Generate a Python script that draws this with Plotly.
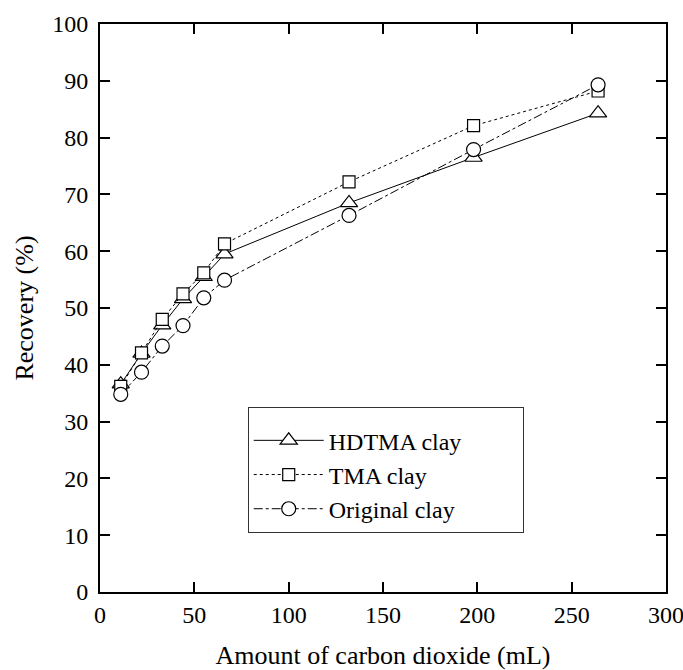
import plotly.graph_objects as go

co2_ml = [11, 22, 33, 44, 55, 66, 132, 198, 264]
hdtma = [36.6, 42.0, 47.0, 51.6, 55.5, 59.5, 68.5, 76.5, 84.3]
tma = [36.2, 42.1, 48.0, 52.5, 56.2, 61.3, 72.2, 82.1, 88.2]
original = [34.8, 38.7, 43.3, 46.9, 51.8, 54.9, 66.3, 77.9, 89.3]

series = [
    ("HDTMA clay", hdtma, "solid", "triangle-up", 15),
    ("TMA clay", tma, "dot", "square", 12),
    ("Original clay", original, "dashdot", "circle", 14),
]

font_family = "Liberation Serif"
tick_fs = 24
title_fs = 26
legend_fs = 24

fig = go.Figure()
for i, (name, vals, dash, sym, size) in enumerate(series):
    fig.add_trace(go.Scatter(
        x=co2_ml, y=vals, name=name, mode="lines+markers",
        line=dict(color="black", width=1, dash=dash),
        marker=dict(symbol=sym, size=size, color="white",
                    line=dict(color="black", width=1.2)),
    ))

axis_common = dict(
    showgrid=False, zeroline=False, showline=True, linecolor="black",
    linewidth=2, mirror="ticks", ticks="inside", ticklen=10, tickwidth=1.5,
    tickcolor="black", ticklabeloverflow="allow", automargin=False,
    tickfont=dict(family=font_family, size=tick_fs, color="black"),
)

fig.update_layout(
    width=683, height=670,
    margin=dict(l=100, r=17, t=24, b=78, autoexpand=False),
    paper_bgcolor="white", plot_bgcolor="white",
    font=dict(family=font_family, size=tick_fs, color="black"),
    xaxis=dict(range=[0, 300], dtick=50, ticklabelstandoff=0,
               title=dict(text="Amount of carbon dioxide (mL)", standoff=24,
                          font=dict(family=font_family, size=title_fs)),
               **axis_common),
    yaxis=dict(range=[0, 100], dtick=10, ticklabelstandoff=5,
               title=dict(text="Recovery (%)", standoff=11,
                          font=dict(family=font_family, size=title_fs)),
               **axis_common),
    legend=dict(x=0.261, y=0.326, xanchor="left", yanchor="top",
                bordercolor="#333", borderwidth=1, bgcolor="white",
                font=dict(family=font_family, size=legend_fs),
                title=dict(text="\u00a0" * 135, font=dict(size=8)),
                traceorder="normal", itemwidth=70),
    showlegend=True,
)

fig.write_html("out.html")
